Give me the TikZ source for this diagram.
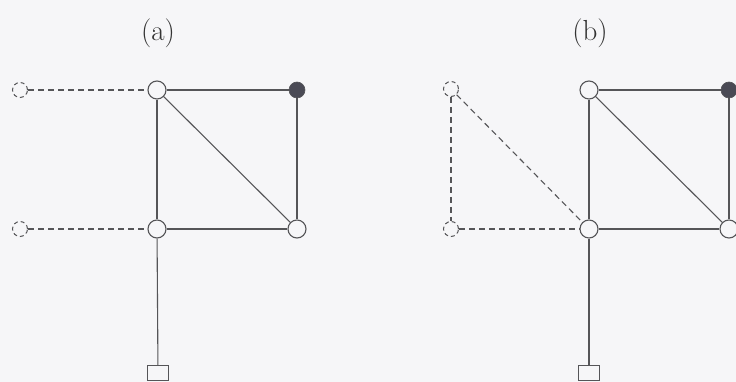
\documentclass[tikz,border=0pt]{standalone}
\usepackage{xcolor}
\definecolor{bg}{HTML}{F6F6F8}
\definecolor{ln}{HTML}{555558}
\definecolor{dk}{HTML}{4A4A55}
\begin{document}
\begin{tikzpicture}[x=1pt,y=1pt,
  vtx/.style={circle,draw=ln,fill=bg,line width=1.1pt,minimum size=18pt,inner sep=0pt},
  dvtx/.style={circle,draw=ln,fill=bg,line width=1.0pt,dash pattern=on 4pt off 3pt,minimum size=15pt,inner sep=0pt},
  fvtx/.style={circle,draw=ln,fill=dk,line width=0.6pt,minimum size=16pt,inner sep=0pt},
  sqbox/.style={rectangle,draw=ln,fill=bg,line width=1.1pt,minimum width=21pt,minimum height=15pt,inner sep=0pt},
  edge/.style={draw=ln,line width=1.1pt},
  dedge/.style={draw=ln,line width=1.1pt,dash pattern=on 6pt off 4pt},
  lab/.style={font=\fontsize{29}{34}\selectfont,text=black!80}]
\fill[bg] (0,0) rectangle (736,382);
\useasboundingbox (0,0) rectangle (736,382);
% (a)
\node[lab] (la) at (158,349) {(a)};
\node[dvtx] (ad1) at (20,292) {};
\node[vtx] (a1) at (157,292) {};
\node[fvtx] (af) at (297,292) {};
\node[dvtx] (ad2) at (20,153) {};
\node[vtx] (a2) at (157,153) {};
\node[vtx] (a3) at (297,153) {};
\node[sqbox] (as) at (158,9) {};
\draw[dedge] (ad1) -- (a1);
\draw[dedge] (ad2) -- (a2);
\draw[edge] (a1) -- (af);
\draw[edge] (a1) -- (a2);
\draw[edge] (a1) -- (a3);
\draw[edge] (af) -- (a3);
\draw[edge] (a2) -- (a3);
\draw[edge] (a2) -- (as);
% (b)
\node[lab] (lb) at (590,349) {(b)};
\node[dvtx] (bd1) at (451,293) {};
\node[vtx] (b1) at (589,292) {};
\node[fvtx] (bf) at (729,292) {};
\node[dvtx] (bd2) at (451,153) {};
\node[vtx] (b2) at (589,153) {};
\node[vtx] (b3) at (729,153) {};
\node[sqbox] (bs) at (589,9) {};
\draw[dedge] (bd1) -- (bd2);
\draw[dedge] (bd1) -- (b2);
\draw[dedge] (bd2) -- (b2);
\draw[edge] (b1) -- (bf);
\draw[edge] (b1) -- (b2);
\draw[edge] (b1) -- (b3);
\draw[edge] (bf) -- (b3);
\draw[edge] (b2) -- (b3);
\draw[edge] (b2) -- (bs);
\end{tikzpicture}
\end{document}
